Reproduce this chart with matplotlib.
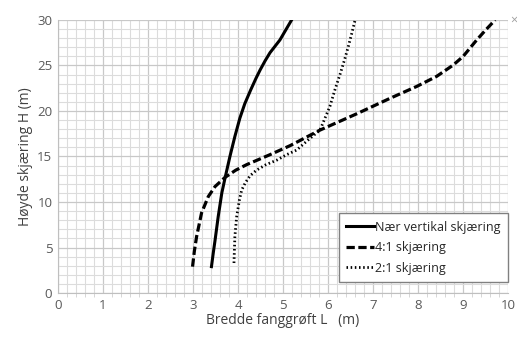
import matplotlib.pyplot as plt
import numpy as np

# Bredde fanggrøft L (m) og høyde skjæring H (m) for tre skjæringstyper
vert_L = [3.41, 3.45, 3.49, 3.56, 3.64, 3.71, 3.82, 3.93, 4.04, 4.15, 4.28, 4.40, 4.49, 4.60, 4.71, 4.82, 4.93, 5.06, 5.19]
vert_H = [2.9, 4.4, 5.8, 8.4, 11.0, 12.6, 15.0, 17.2, 19.2, 20.8, 22.3, 23.6, 24.5, 25.5, 26.4, 27.1, 27.8, 28.9, 30.0]

s41_L = [2.99, 3.03, 3.08, 3.19, 3.34, 3.49, 3.71, 3.95, 4.19, 4.71, 5.16, 5.82, 6.64, 7.38, 7.97, 8.41,
         8.78, 9.00, 9.15, 9.30, 9.50, 9.71]
s41_H = [2.9, 4.6, 6.2, 8.8, 10.6, 11.7, 12.7, 13.5, 14.1, 15.2, 16.2, 17.9, 19.7, 21.4, 22.7, 23.8,
         25.05, 26.0, 26.9, 27.8, 28.9, 30.0]

s21_L = [3.91, 3.92, 3.93, 3.97, 4.03, 4.08, 4.16, 4.27, 4.41, 4.62, 4.86, 5.08, 5.30, 5.60, 5.82,
         6.04, 6.15, 6.27, 6.37, 6.45, 6.53, 6.60]
s21_H = [3.3, 4.8, 6.2, 8.4, 10.2, 11.3, 12.1, 12.9, 13.5, 14.1, 14.6, 15.2, 15.7, 17.0, 17.9,
         20.5, 22.3, 24.1, 25.7, 27.1, 28.6, 30.0]

labels = ["Nær vertikal skjæring", "4:1 skjæring", "2:1 skjæring"]

plt.rcParams['font.family'] = ['Open Sans', 'DejaVu Sans']
fig = plt.figure(figsize=(5.17, 3.38), dpi=100)
ax = fig.add_axes([0.112, 0.133, 0.871, 0.808])

ax.plot(vert_L, vert_H, color='black', lw=2.2, label=labels[0], solid_joinstyle='round')
ax.plot(s41_L, s41_H, color='black', lw=2.3, dashes=(2.6, 1.1), label=labels[1])
ax.plot(s21_L, s21_H, color='black', lw=2.0, dashes=(0.55, 0.95), label=labels[2])

ax.set_xlim(0, 10)
ax.set_ylim(0, 30)
ax.set_xticks(np.arange(0, 11, 1))
ax.set_yticks(np.arange(0, 31, 5))
ax.set_xticks(np.arange(0, 10.01, 0.2), minor=True)
ax.set_yticks(np.arange(0, 31, 1), minor=True)
ax.grid(which='minor', color='#dcdcdc', lw=0.8)
ax.grid(which='major', color='#c8c8c8', lw=0.9)
ax.set_axisbelow(True)

for s in ['top', 'right']:
    ax.spines[s].set_visible(False)
for s in ['left', 'bottom']:
    ax.spines[s].set_color('#bfbfbf')
ax.tick_params(which='both', length=0, colors='#595959', labelsize=9.5, pad=4)
ax.tick_params(axis='x', which='minor', length=3, color='#d0d0d0')

ax.set_xlabel("Bredde fanggrøft L   (m)", fontsize=10, color='#404040', labelpad=1)
ax.set_ylabel("Høyde skjæring H (m)", fontsize=10, color='#404040', labelpad=3)

ax.text(1.005, 1.0, "×", transform=ax.transAxes, color='#a0a0a0', fontsize=9,
        ha='left', va='center')

leg = ax.legend(loc='lower right', bbox_to_anchor=(1.0, 0.04), borderaxespad=0, fontsize=9,
                handlelength=2.2, handletextpad=0.1, fancybox=False,
                framealpha=1, edgecolor='#808080', borderpad=0.6, labelspacing=0.6)
for t in leg.get_texts():
    t.set_color('#262626')

fig.savefig("out.png", dpi=100)
